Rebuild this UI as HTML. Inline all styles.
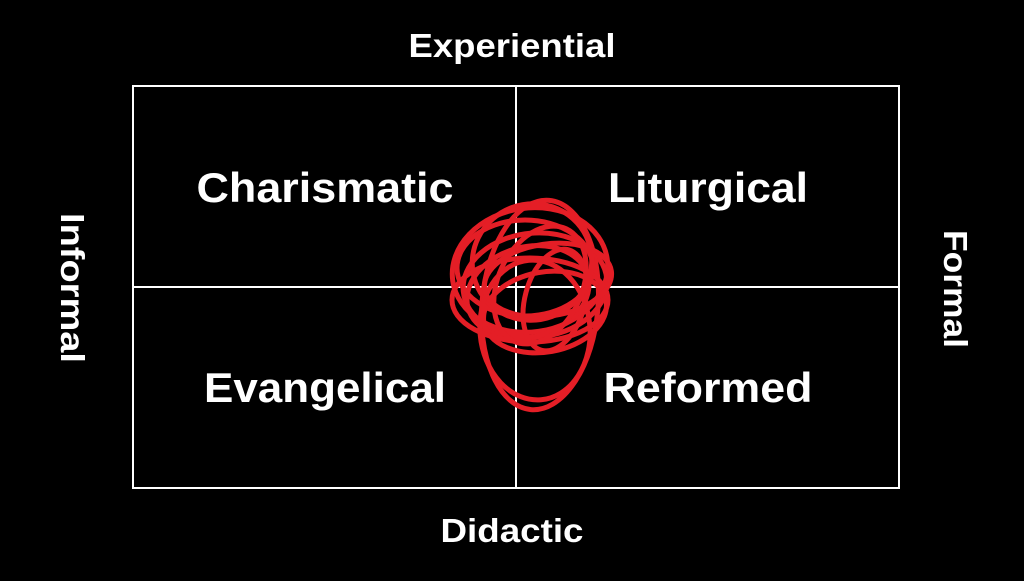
<!DOCTYPE html>
<html><head><style>
body{margin:0;width:1024px;height:576px;background:#000;overflow:hidden;font-family:"Liberation Sans",sans-serif;}
</style></head><body>
<svg width="1024" height="576" viewBox="0 0 1024 576" xmlns="http://www.w3.org/2000/svg">
<rect x="133" y="86" width="766" height="402" fill="none" stroke="#fff" stroke-width="2"/>
<line x1="516" y1="86" x2="516" y2="488" stroke="#fff" stroke-width="2"/>
<line x1="133" y1="287" x2="899" y2="287" stroke="#fff" stroke-width="2"/>
<g fill="#fff" font-family="Liberation Sans, sans-serif" font-weight="bold" text-anchor="middle" lengthAdjust="spacingAndGlyphs">
<text x="512" y="57" font-size="33" textLength="207" lengthAdjust="spacingAndGlyphs">Experiential</text>
<text x="512" y="542" font-size="33" textLength="143" lengthAdjust="spacingAndGlyphs">Didactic</text>
<text x="325" y="202" font-size="42" textLength="257" lengthAdjust="spacingAndGlyphs">Charismatic</text>
<text x="708" y="202" font-size="42" textLength="200" lengthAdjust="spacingAndGlyphs">Liturgical</text>
<text x="325" y="402" font-size="42" textLength="242" lengthAdjust="spacingAndGlyphs">Evangelical</text>
<text x="708" y="402" font-size="42" textLength="209" lengthAdjust="spacingAndGlyphs">Reformed</text>
<text transform="translate(61,288) rotate(90)" font-size="33" textLength="150" lengthAdjust="spacingAndGlyphs">Informal</text>
<text transform="translate(944,289) rotate(90)" font-size="33" textLength="118" lengthAdjust="spacingAndGlyphs">Formal</text>
</g>
<g fill="none" stroke="#e41e26" stroke-width="5">
<ellipse cx="530" cy="270" rx="78" ry="62" transform="rotate(-8 530 270)"/>
<ellipse cx="535" cy="285" rx="72" ry="52" transform="rotate(-5 535 285)"/>
<ellipse cx="528" cy="292" rx="62" ry="45" transform="rotate(-15 528 292)"/>
<ellipse cx="555" cy="300" rx="30" ry="52" transform="rotate(15 555 300)"/>
<ellipse cx="540" cy="305" rx="58" ry="105" transform="rotate(5 540 305)"/>
<ellipse cx="525" cy="268" rx="68" ry="48"/>
<ellipse cx="545" cy="312" rx="62" ry="40" transform="rotate(-10 545 312)"/>
<ellipse cx="540" cy="285" rx="42" ry="62" transform="rotate(25 540 285)"/>
<ellipse cx="530" cy="300" rx="78" ry="42"/>
<ellipse cx="532" cy="262" rx="60" ry="58" transform="rotate(-20 532 262)"/>
<ellipse cx="535" cy="330" rx="55" ry="70" transform="rotate(-5 535 330)"/>
<ellipse cx="548" cy="280" rx="64" ry="36" transform="rotate(-8 548 280)"/>
</g>
</svg>
</body></html>
